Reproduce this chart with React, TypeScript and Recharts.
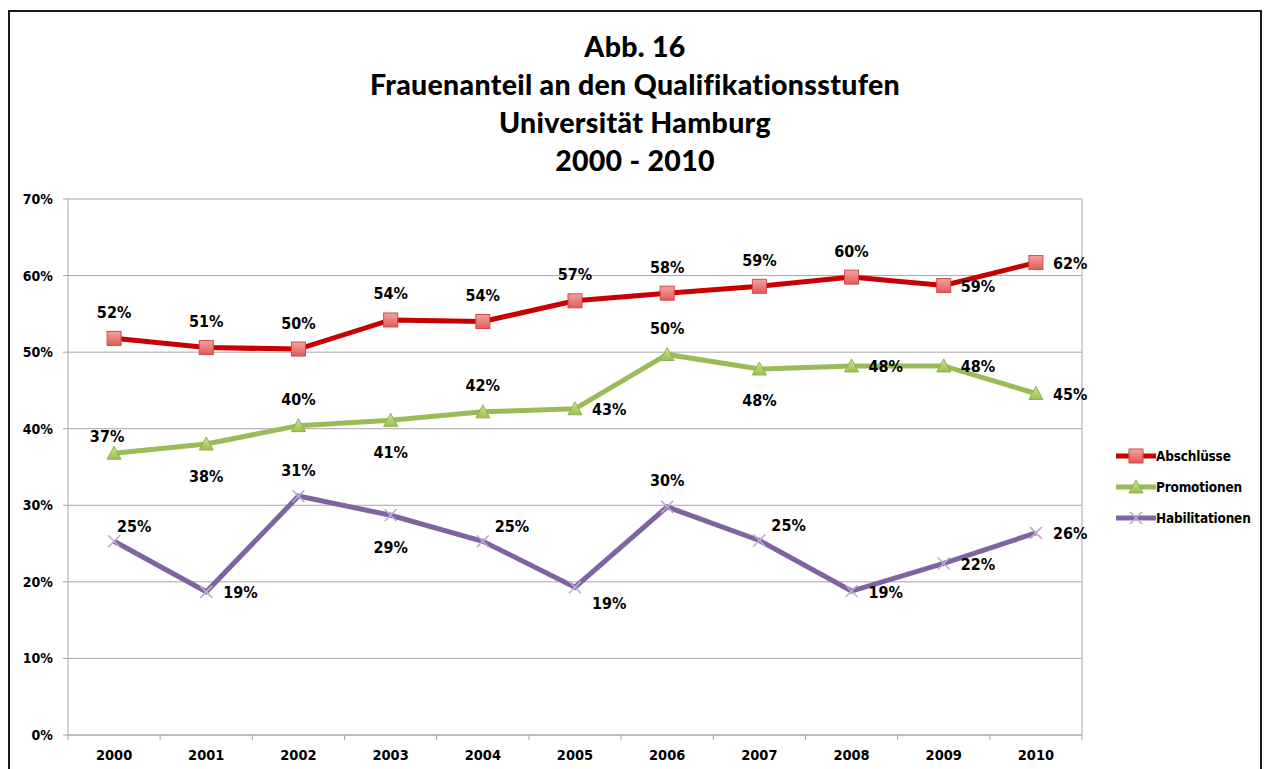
import * as React from "react"
import { CartesianGrid, LabelList, Legend, Line, LineChart, XAxis, YAxis } from "recharts"

// Frauenanteil in Prozent je Jahr
const years = ["2000", "2001", "2002", "2003", "2004", "2005", "2006", "2007", "2008", "2009", "2010"]
const abschluesse = [51.8, 50.6, 50.4, 54.2, 54.0, 56.7, 57.7, 58.6, 59.8, 58.7, 61.7]
const promotionen = [36.8, 38.0, 40.4, 41.1, 42.2, 42.6, 49.7, 47.8, 48.2, 48.2, 44.6]
const habilitationen = [25.3, 18.7, 31.2, 28.7, 25.3, 19.3, 29.8, 25.4, 18.8, 22.4, 26.4]
const yTicks = [0, 10, 20, 30, 40, 50, 60, 70]
const seriesOrder = ["abschluesse", "promotionen", "habilitationen"]

const titleLines = ["Abb. 16", "Frauenanteil an den Qualifikationsstufen", "Universität Hamburg", "2000 - 2010"]

// where each data label sits relative to its point (as Excel placed them)
const placeAbschluesse = ["top", "top", "top", "top", "top", "top", "top", "top", "top", "right", "right"]
const placePromotionen = ["topLeft", "bottom", "top", "bottom", "top", "right", "top", "bottom", "right", "right", "right"]
const placeHabilitationen = ["topRight", "right", "top", "bottom", "rightUp", "rightDown", "top", "rightUp", "right", "right", "right"]

const data = years.map((year, i) => ({
  year,
  abschluesse: abschluesse[i],
  promotionen: promotionen[i],
  habilitationen: habilitationen[i],
}))

const RED = "#C80000"
const GREEN = "#9BBB59"
const PURPLE = "#8064A2"
const GRID = "#A6A6A6"
const FONT = "'DejaVu Sans Condensed', 'DejaVu Sans', Verdana, sans-serif"

function SquareMark({ cx, cy }: any) {
  if (cx == null || cy == null) return null
  return (
    <rect x={cx - 7} y={cy - 7} width={14} height={14} fill="url(#sqFill)" stroke="#D24A4A" strokeWidth={1} />
  )
}

function TriangleMark({ cx, cy }: any) {
  if (cx == null || cy == null) return null
  return (
    <path d={`M${cx},${cy - 7} L${cx + 7},${cy + 6} L${cx - 7},${cy + 6} Z`} fill="url(#triFill)" stroke="#8FB04E" strokeWidth={1} />
  )
}

function CrossMark({ cx, cy }: any) {
  if (cx == null || cy == null) return null
  return (
    <g stroke="#B9ACD3" strokeWidth={1.6}>
      <line x1={cx - 6} y1={cy - 6} x2={cx + 6} y2={cy + 6} />
      <line x1={cx - 6} y1={cy + 6} x2={cx + 6} y2={cy - 6} />
    </g>
  )
}

function makeLabel(places: string[]) {
  return function PointLabel(props: any) {
    const { x, y, value, index } = props
    if (x == null || y == null) return null
    const p = places[index] || "top"
    let tx = x
    let ty = y - 26
    let anchor: "start" | "middle" = "middle"
    if (p === "bottom") ty = y + 32
    else if (p === "right") { tx = x + 17; ty = y + 1; anchor = "start" }
    else if (p === "rightUp") { tx = x + 12; ty = y - 15; anchor = "start" }
    else if (p === "rightDown") { tx = x + 17; ty = y + 16; anchor = "start" }
    else if (p === "topRight") { tx = x + 3; ty = y - 15; anchor = "start" }
    else if (p === "topLeft") { tx = x - 7; ty = y - 17 }
    return (
      <text x={tx} y={ty} textAnchor={anchor} dominantBaseline="central" fontFamily={FONT} fontWeight="bold" fontSize={16} fill="#000">
        {Math.round(Number(value))}%
      </text>
    )
  }
}

function YearTick(props: any) {
  const { x, y, payload, index } = props
  const half = payload?.offset || 46
  return (
    <g>
      <line x1={x - half} y1={y} x2={x - half} y2={y + 5} stroke={GRID} />
      {index === years.length - 1 && <line x1={x + half} y1={y} x2={x + half} y2={y + 5} stroke={GRID} />}
      <text x={x} y={y + 20} textAnchor="middle" dominantBaseline="central" fontFamily={FONT} fontWeight="bold" fontSize={14.5} fill="#000">
        {payload.value}
      </text>
    </g>
  )
}

const markers: Record<string, (p: any) => React.ReactElement | null> = {
  abschluesse: SquareMark,
  promotionen: TriangleMark,
  habilitationen: CrossMark,
}

function LegendBox({ payload }: any) {
  const items = [...(payload || [])].sort(
    (a: any, b: any) => seriesOrder.indexOf(a.dataKey) - seriesOrder.indexOf(b.dataKey)
  )
  return (
    <div style={{ display: "flex", flexDirection: "column", gap: 11 }}>
      {items.map((item: any) => {
        const Mark = markers[item.dataKey]
        return (
          <div key={item.dataKey} style={{ display: "flex", alignItems: "center", height: 20 }}>
            <svg width={40} height={20}>
              <line x1={0} y1={10} x2={40} y2={10} stroke={item.color} strokeWidth={5} strokeLinecap="round" />
              {Mark && <Mark cx={20} cy={10} />}
            </svg>
            <span style={{ fontFamily: FONT, fontWeight: "bold", fontSize: 13.5, letterSpacing: -0.2, color: "#000" }}>
              {item.value}
            </span>
          </div>
        )
      })}
    </div>
  )
}

export default function App() {
  return (
    <div
      style={{
        position: "absolute",
        left: 8,
        top: 10,
        width: 1254,
        height: 759,
        boxSizing: "border-box",
        borderTop: "2px solid #1a1a1a",
        borderLeft: "2px solid #1a1a1a",
        borderRight: "2px solid #1a1a1a",
        background: "#fff",
      }}
    >
      <div style={{ position: "absolute", left: 0, top: 15, width: "100%", textAlign: "center" }}>
        {titleLines.map((t) => (
          <div key={t} style={{ fontFamily: "Lato, 'Open Sans', sans-serif", fontWeight: 900, fontSize: 28.5, letterSpacing: 0.3, lineHeight: "38px", color: "#000" }}>
            {t}
          </div>
        ))}
      </div>
      <LineChart width={1250} height={757} data={data} margin={{ top: 187, right: 178, bottom: 4, left: 0 }}>
        <defs>
          <linearGradient id="sqFill" x1="0" y1="0" x2="0" y2="1">
            <stop offset="0%" stopColor="#F4A3A0" />
            <stop offset="100%" stopColor="#DE5B57" />
          </linearGradient>
          <linearGradient id="triFill" x1="0" y1="0" x2="0" y2="1">
            <stop offset="0%" stopColor="#CDE39A" />
            <stop offset="100%" stopColor="#9BC14E" />
          </linearGradient>
        </defs>
        <CartesianGrid
          stroke={GRID}
          vertical={true}
          verticalCoordinatesGenerator={({ offset }: any) => [offset.left + offset.width]}
        />
        <XAxis
          dataKey="year"
          scale="band"
          height={30}
          axisLine={{ stroke: GRID }}
          tickLine={false}
          tickSize={0}
          tickMargin={0}
          tick={<YearTick />}
          interval={0}
        />
        <YAxis
          domain={[0, 70]}
          ticks={yTicks}
          width={58}
          axisLine={{ stroke: GRID }}
          tickLine={{ stroke: GRID }}
          tickSize={5}
          tickMargin={10}
          tickFormatter={(v) => `${v}%`}
          tick={{ fontFamily: FONT, fontWeight: "bold", fontSize: 14, fill: "#000" }}
        />
        <Legend
          layout="vertical"
          align="center"
          verticalAlign="middle"
          wrapperStyle={{ left: 1106, top: 434, width: 144 }}
          content={<LegendBox />}
        />
        <Line
          dataKey="abschluesse"
          name="Abschlüsse"
          stroke={RED}
          strokeWidth={5}
          dot={<SquareMark />}
          activeDot={false}
          isAnimationActive={false}
        >
          <LabelList dataKey="abschluesse" content={makeLabel(placeAbschluesse)} />
        </Line>
        <Line
          dataKey="promotionen"
          name="Promotionen"
          stroke={GREEN}
          strokeWidth={5}
          dot={<TriangleMark />}
          activeDot={false}
          isAnimationActive={false}
        >
          <LabelList dataKey="promotionen" content={makeLabel(placePromotionen)} />
        </Line>
        <Line
          dataKey="habilitationen"
          name="Habilitationen"
          stroke={PURPLE}
          strokeWidth={5}
          dot={<CrossMark />}
          activeDot={false}
          isAnimationActive={false}
        >
          <LabelList dataKey="habilitationen" content={makeLabel(placeHabilitationen)} />
        </Line>
      </LineChart>
    </div>
  )
}
